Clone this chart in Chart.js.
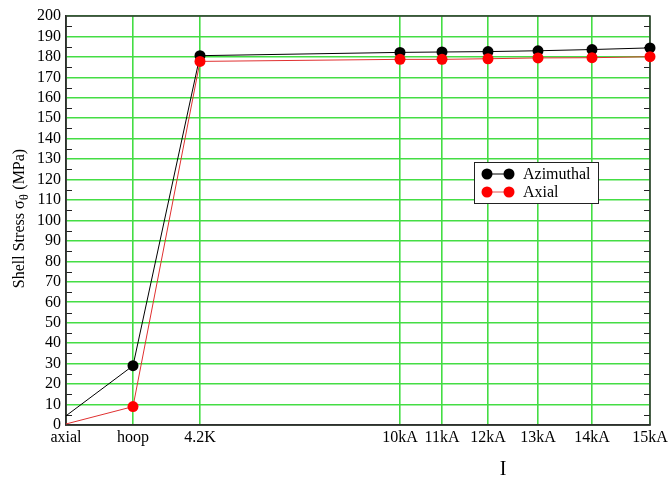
<!DOCTYPE html>
<html>
<head>
<meta charset="utf-8">
<script src="https://cdn.jsdelivr.net/npm/chart.js@4.4.1/dist/chart.umd.min.js"></script>
<style>
  html, body { margin: 0; padding: 0; background: #fff; }
  #wrap { width: 672px; height: 485px; position: relative; }
</style>
</head>
<body>
<div id="wrap"><canvas id="c" width="672" height="485"></canvas></div>
<script>
// ---- data ----
const categories = ['axial', 'hoop', '4.2K', '10kA', '11kA', '12kA', '13kA', '14kA', '15kA'];
// x positions on the (I^2-like) axis, kA^2
const xValues = [-67, -33.5, 0, 100, 121, 144, 169, 196, 225];
const azimuthal = [4.5, 29, 180.6, 182.2, 182.4, 182.6, 183.0, 183.6, 184.4];
const axial = [0.5, 9, 177.8, 178.8, 178.8, 179.1, 179.5, 179.6, 180.1];
const seriesNames = ['Azimuthal', 'Axial'];
const yTitleMain = 'Shell Stress σ';
const yTitleSub = 'θ';
const yTitleUnit = ' (MPa)';
const xTitle = 'I';

const FONT = "'Liberation Serif', 'Times New Roman', serif";
const GRID = '#44dd44';

function pts(ys) { return ys.map((y, i) => ({ x: xValues[i], y: y })); }
const radiusFn = ctx => (ctx.dataIndex === 0 ? 0 : 5.5);

const decorPlugin = {
  id: 'decor',
  beforeDatasetsDraw(chart) {
    const { ctx, chartArea: a, scales } = chart;
    ctx.save();
    ctx.strokeStyle = '#222';
    ctx.lineWidth = 1;
    for (let v = 5; v < 200; v += 10) {
      const y = Math.round(scales.y.getPixelForValue(v)) + 0.5;
      ctx.beginPath();
      ctx.moveTo(a.left, y); ctx.lineTo(a.left + 6, y);
      ctx.moveTo(a.right - 6, y); ctx.lineTo(a.right, y);
      ctx.stroke();
    }
    ctx.strokeStyle = '#333';
    ctx.lineWidth = 1.5;
    ctx.strokeRect(a.left, a.top, a.right - a.left, a.bottom - a.top);
    ctx.restore();
  },
  afterDraw(chart) {
    const { ctx } = chart;
    ctx.save();
    ctx.fillStyle = '#000';
    ctx.translate(20, 219);
    ctx.rotate(-Math.PI / 2);
    ctx.font = '16px ' + FONT;
    ctx.textBaseline = 'middle';
    const w1 = ctx.measureText(yTitleMain).width;
    ctx.font = '12px ' + FONT;
    const w2 = ctx.measureText(yTitleSub).width;
    ctx.font = '16px ' + FONT;
    const w3 = ctx.measureText(yTitleUnit).width;
    let x0 = -(w1 + w2 + w3) / 2;
    ctx.textAlign = 'left';
    ctx.fillText(yTitleMain, x0, 0);
    ctx.font = '12px ' + FONT;
    ctx.fillText(yTitleSub, x0 + w1 + 0.5, 5);
    ctx.font = '16px ' + FONT;
    ctx.fillText(yTitleUnit, x0 + w1 + w2 + 1, 0);
    ctx.restore();

    ctx.save();
    ctx.fillStyle = '#000';
    ctx.font = '20px ' + FONT;
    ctx.textAlign = 'center';
    ctx.textBaseline = 'middle';
    ctx.fillText(xTitle, 503, 470);
    ctx.restore();

    ctx.save();
    const bx = 474, by = 162, bw = 124, bh = 41;
    ctx.fillStyle = '#fff';
    ctx.fillRect(bx, by, bw, bh);
    ctx.strokeStyle = '#222';
    ctx.lineWidth = 1;
    ctx.strokeRect(bx + 0.5, by + 0.5, bw, bh);
    const colors = ['#000000', '#ff0000'];
    const rows = [174, 192];
    seriesNames.forEach((name, i) => {
      const y = rows[i];
      ctx.strokeStyle = i === 0 ? '#000' : '#e05050';
      ctx.lineWidth = 1;
      ctx.beginPath(); ctx.moveTo(487, y); ctx.lineTo(509, y); ctx.stroke();
      ctx.fillStyle = colors[i];
      [487, 509].forEach(px => { ctx.beginPath(); ctx.arc(px, y, 5.5, 0, Math.PI * 2); ctx.fill(); });
      ctx.fillStyle = '#000';
      ctx.font = '16px ' + FONT;
      ctx.textAlign = 'left';
      ctx.textBaseline = 'middle';
      ctx.fillText(name, 523, y + 1);
    });
    ctx.restore();
  }
};

new Chart(document.getElementById('c'), {
  type: 'scatter',
  data: {
    datasets: [
      {
        label: seriesNames[0],
        data: pts(azimuthal),
        showLine: true,
        borderColor: '#000000',
        borderWidth: 1,
        backgroundColor: '#000000',
        pointBackgroundColor: '#000000',
        pointBorderWidth: 0,
        pointRadius: radiusFn,
        pointHoverRadius: radiusFn,
        clip: false,
        order: 2
      },
      {
        label: seriesNames[1],
        data: pts(axial),
        showLine: true,
        borderColor: '#e03030',
        borderWidth: 1,
        backgroundColor: '#ff0000',
        pointBackgroundColor: '#ff0000',
        pointBorderWidth: 0,
        pointRadius: radiusFn,
        pointHoverRadius: radiusFn,
        clip: false,
        order: 1
      }
    ]
  },
  options: {
    responsive: false,
    animation: false,
    events: [],
    layout: { padding: { left: 0, right: 22, top: 16, bottom: 0 } },
    plugins: { legend: { display: false }, tooltip: { enabled: false } },
    scales: {
      x: {
        type: 'linear',
        min: xValues[0],
        max: xValues[xValues.length - 1],
        afterBuildTicks(scale) { scale.ticks = xValues.map(v => ({ value: v })); },
        afterFit(scale) { scale.height = 60; },
        ticks: {
          autoSkip: false,
          maxRotation: 0,
          padding: 3,
          color: '#000',
          font: { family: FONT, size: 16 },
          callback: (v, i) => categories[i]
        },
        grid: { color: GRID, lineWidth: 1.6, drawTicks: false },
        border: { display: true, color: '#222', width: 1.5 }
      },
      y: {
        min: 0,
        max: 200,
        afterFit(scale) { scale.width = 66; },
        ticks: {
          stepSize: 10,
          autoSkip: false,
          padding: 5,
          color: '#000',
          font: { family: FONT, size: 16 }
        },
        grid: { color: GRID, lineWidth: 1.6, drawTicks: false },
        border: { display: true, color: '#222', width: 1.5 }
      }
    }
  },
  plugins: [decorPlugin]
});
</script>
</body>
</html>
